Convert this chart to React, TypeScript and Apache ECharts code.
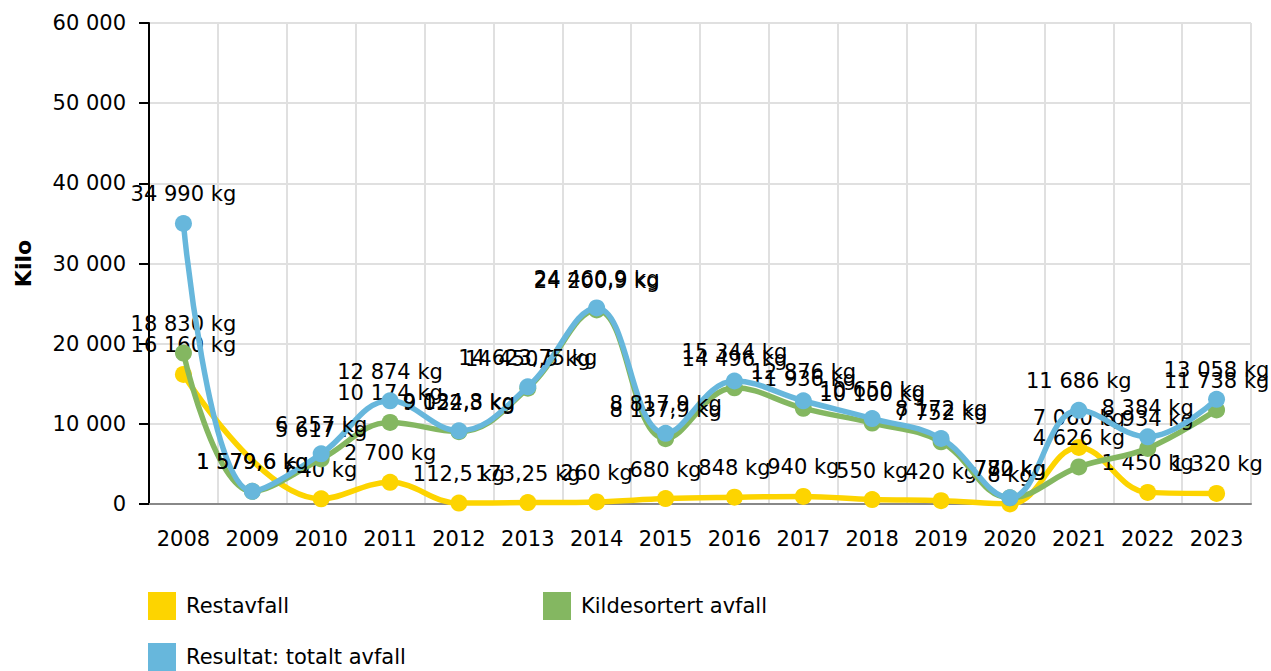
import React, { useEffect, useRef } from "react";
import * as echarts from "echarts";

const years = ["2008","2009","2010","2011","2012","2013","2014","2015","2016","2017","2018","2019","2020","2021","2022","2023"];
const restavfall: (number | null)[] = [16160, null, 640, 2700, 112.5, 173.25, 260, 680, 848, 940, 550, 420, 8, 7060, 1450, 1320];
const kildesortert: number[] = [18830, 1579.6, 5617, 10174, 9022.3, 14450.5, 24200.9, 8137.9, 14496, 11936, 10100, 7752, 772, 4626, 6934, 11738];
const totalt: number[] = [34990, 1579.6, 6257, 12874, 9134.8, 14623.75, 24460.9, 8817.9, 15344, 12876, 10650, 8172, 780, 11686, 8384, 13058];
const seriesNames = ["Restavfall", "Kildesortert avfall", "Resultat: totalt avfall"];
const colors = ["#fdd400", "#84b761", "#67b7dc"];

function fmt(v: number): string {
  const parts = String(v).split(".");
  const int = parts[0].replace(/\B(?=(\d{3})+(?!\d))/g, " ");
  return parts.length > 1 ? int + "," + parts[1] : int;
}

const FONT = "DejaVu Sans";
const FS = 21;

export default function App() {
  const ref = useRef<HTMLDivElement>(null);
  useEffect(() => {
    if (!ref.current) return;
    const chart = echarts.init(ref.current, null, { renderer: "svg" });
    const mk = (name: string, data: (number | null)[], color: string, z: number) => ({
      name,
      type: "line",
      data,
      smooth: 0.4,
      connectNulls: true,
      symbol: "circle",
      symbolSize: 17,
      z,
      itemStyle: { color },
      lineStyle: { color, width: 5.5 },
      label: {
        show: true,
        position: "top",
        distance: 10,
        color: "#000",
        fontFamily: FONT,
        fontSize: FS,
        formatter: (p: any) => fmt(p.value) + " kg",
      },
    });
    const legendBase = {
      icon: "rect",
      itemWidth: 28,
      itemHeight: 28,
      padding: 0,
      orient: "horizontal",
      textStyle: { fontFamily: FONT, fontSize: FS, color: "#000", padding: [0, 0, 0, 5] },
      selectedMode: false,
    };
    chart.setOption({
      animation: false,
      backgroundColor: "#fff",
      grid: { left: 149, right: 20, top: 23, bottom: 167 },
      legend: [
        { ...legendBase, left: 148, top: 592, data: [seriesNames[0]] },
        { ...legendBase, left: 543, top: 592, data: [seriesNames[1]] },
        { ...legendBase, left: 148, top: 643, data: [seriesNames[2]] },
      ],
      xAxis: {
        type: "category",
        data: years,
        boundaryGap: true,
        axisLine: { lineStyle: { color: "#888", width: 2 } },
        axisTick: { alignWithLabel: true, interval: 0, length: 7, lineStyle: { color: "#999", width: 2 } },
        axisLabel: { interval: 0, color: "#000", fontFamily: FONT, fontSize: FS, margin: 24 },
        splitLine: { show: true, interval: 0, lineStyle: { color: "#e0e0e0", width: 2 } },
      },
      yAxis: {
        type: "value",
        min: 0,
        max: 60000,
        interval: 10000,
        name: "Kilo",
        nameLocation: "middle",
        nameGap: 115,
        nameTextStyle: { fontFamily: FONT, fontSize: 22, fontWeight: "bold", color: "#000" },
        axisLine: { show: true, lineStyle: { color: "#000", width: 2 } },
        axisTick: { show: true, length: 10, lineStyle: { color: "#000", width: 2 } },
        axisLabel: { color: "#000", fontFamily: FONT, fontSize: FS, margin: 23, formatter: (v: number) => fmt(v) },
        splitLine: { show: true, lineStyle: { color: "#e0e0e0", width: 2 } },
      },
      series: [
        mk(seriesNames[0], restavfall, colors[0], 2),
        mk(seriesNames[1], kildesortert, colors[1], 3),
        mk(seriesNames[2], totalt, colors[2], 4),
      ],
    });
    return () => chart.dispose();
  }, []);
  return <div ref={ref} style={{ width: 1271, height: 671, position: "absolute", left: 0, top: 0 }} />;
}
